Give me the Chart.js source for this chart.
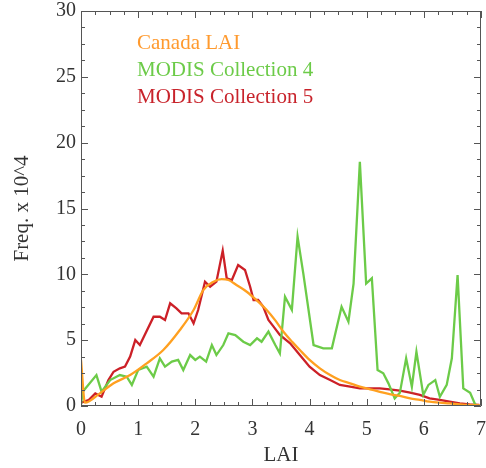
<!DOCTYPE html>
<html><head><meta charset="utf-8">
<script src="https://cdn.jsdelivr.net/npm/chart.js@4.4.1/dist/chart.umd.min.js"></script>
<style>html,body{margin:0;padding:0;background:#fff}#wrap{width:486px;height:468px}</style>
</head><body><div id="wrap"><canvas id="c" width="486" height="468"></canvas></div>
<script>
const seriesNames = ["Canada LAI", "MODIS Collection 4", "MODIS Collection 5"];
const canadaX = [0, 0.07, 0.33, 0.57, 0.86, 1.15, 1.44, 1.73, 1.97, 2.14, 2.32, 2.46, 2.58, 2.72, 2.9, 3.07, 3.25, 3.4, 3.55, 3.7, 3.83, 4.0, 4.18, 4.36, 4.53, 4.71, 4.88, 5.06, 5.23, 5.4, 5.58, 5.76, 5.93, 6.1, 6.28, 6.45, 6.63, 6.8, 6.98];
const canadaY = [3.5, 0.25, 0.96, 1.72, 2.35, 3.24, 4.25, 5.77, 7.29, 8.8, 9.44, 9.64, 9.57, 9.19, 8.68, 8.05, 7.29, 6.5, 5.6, 4.85, 4.25, 3.5, 2.86, 2.35, 1.97, 1.72, 1.47, 1.27, 1.08, 0.9, 0.76, 0.58, 0.46, 0.33, 0.25, 0.2, 0.13, 0.08, 0.05];
const c4X = [0, 0.03, 0.27, 0.36, 0.51, 0.68, 0.8, 0.89, 1.0, 1.15, 1.27, 1.38, 1.47, 1.59, 1.7, 1.79, 1.91, 2.0, 2.08, 2.19, 2.29, 2.37, 2.49, 2.58, 2.7, 2.84, 2.96, 3.08, 3.16, 3.28, 3.4, 3.48, 3.57, 3.69, 3.79, 3.89, 4.07, 4.24, 4.39, 4.56, 4.68, 4.77, 4.88, 4.99, 5.09, 5.19, 5.29, 5.38, 5.49, 5.58, 5.69, 5.79, 5.87, 5.99, 6.08, 6.2, 6.28, 6.4, 6.49, 6.59, 6.69, 6.81, 6.9, 6.98];
const c4Y = [0.1, 1.09, 2.35, 1.09, 1.97, 2.35, 2.23, 1.6, 2.73, 2.99, 2.23, 3.62, 2.99, 3.37, 3.5, 2.73, 3.87, 3.5, 3.75, 3.37, 4.63, 3.87, 4.63, 5.52, 5.39, 4.88, 4.63, 5.14, 4.88, 5.65, 4.63, 4.0, 8.3, 7.3, 12.86, 10.07, 4.63, 4.38, 4.38, 7.54, 6.4, 9.3, 18.55, 9.3, 9.7, 2.73, 2.48, 1.72, 0.58, 1.0, 3.62, 1.47, 4.12, 0.84, 1.6, 1.97, 0.7, 1.6, 3.62, 9.95, 1.34, 1.0, 0.1, 0.0];
const c5X = [0, 0.13, 0.25, 0.36, 0.48, 0.57, 0.68, 0.77, 0.86, 0.95, 1.03, 1.27, 1.38, 1.47, 1.56, 1.67, 1.76, 1.88, 1.97, 2.05, 2.17, 2.26, 2.37, 2.48, 2.55, 2.64, 2.75, 2.87, 2.96, 3.02, 3.1, 3.19, 3.28, 3.37, 3.48, 3.66, 3.83, 4.0, 4.18, 4.36, 4.53, 4.71, 4.88, 5.06, 5.23, 5.4, 5.58, 5.76, 5.93, 6.1, 6.28, 6.45, 6.63, 6.8, 6.97];
const c5Y = [0.25, 0.44, 0.96, 0.71, 1.97, 2.6, 2.86, 2.99, 3.75, 5.01, 4.63, 6.78, 6.78, 6.53, 7.8, 7.42, 7.04, 7.04, 6.28, 7.29, 9.44, 9.06, 9.44, 11.8, 9.7, 9.57, 10.7, 10.33, 9.06, 8.05, 8.05, 7.54, 6.53, 6.03, 5.4, 4.76, 3.87, 2.99, 2.35, 1.97, 1.6, 1.47, 1.34, 1.34, 1.34, 1.27, 1.16, 1.01, 0.84, 0.58, 0.46, 0.33, 0.2, 0.13, 0.08];
const xTicks = [0, 1, 2, 3, 4, 5, 6, 7];
const yTicks = [0, 5, 10, 15, 20, 25, 30];
const lineColors = ["#FFA020", "#6CCB48", "#CC2027"];
const textColors = ["#FF9A2E", "#6CCB48", "#C8232B"];

const pts = (xs, ys) => xs.map((x, i) => ({x: x, y: ys[i]}));
const FONT = "'Liberation Serif', 'DejaVu Serif', serif";

const framePlugin = {
  id: 'frame',
  afterDraw(chart) {
    const {ctx, chartArea: a, scales: {x, y}} = chart;
    ctx.save();
    ctx.strokeStyle = '#555';
    ctx.lineWidth = 1;
    ctx.beginPath();
    ctx.rect(a.left + 0.5, a.top + 0.5, a.right - a.left - 1, a.bottom - a.top - 1);
    ctx.stroke();
    ctx.beginPath();
    for (let v = 0; v <= 7.0001; v += 0.25) {
      const px = Math.round(x.getPixelForValue(v)) + 0.5;
      const len = Math.abs(v - Math.round(v)) < 1e-6 ? 7 : 4;
      ctx.moveTo(px, a.bottom); ctx.lineTo(px, a.bottom - len);
      ctx.moveTo(px, a.top); ctx.lineTo(px, a.top + len);
    }
    for (let v = 0; v <= 30.0001; v += 1.25) {
      const py = Math.round(y.getPixelForValue(v)) + 0.5;
      const len = Math.abs(v / 5 - Math.round(v / 5)) < 1e-6 ? 7 : 4;
      ctx.moveTo(a.left, py); ctx.lineTo(a.left + len, py);
      ctx.moveTo(a.right, py); ctx.lineTo(a.right - len, py);
    }
    ctx.stroke();
    ctx.font = "21px " + FONT;
    ctx.textBaseline = 'middle';
    ctx.textAlign = 'left';
    chart.data.datasets.forEach((ds, i) => {
      ctx.fillStyle = textColors[i];
      ctx.fillText(ds.label, 137, 43 + i * 27);
    });
    ctx.restore();
  }
};

new Chart(document.getElementById('c'), {
  type: 'line',
  data: {
    datasets: [
      {label: seriesNames[0], data: pts(canadaX, canadaY), borderColor: lineColors[0], borderWidth: 2.3, pointRadius: 0, tension: 0.3, cubicInterpolationMode: 'monotone'},
      {label: seriesNames[1], data: pts(c4X, c4Y), borderColor: lineColors[1], borderWidth: 2.3, pointRadius: 0, tension: 0},
      {label: seriesNames[2], data: pts(c5X, c5Y), borderColor: lineColors[2], borderWidth: 2.3, pointRadius: 0, tension: 0}
    ]
  },
  options: {
    responsive: false,
    animation: false,
    layout: {padding: {top: 11, right: 5, left: 0, bottom: 0}},
    plugins: {legend: {display: false}, tooltip: {enabled: false}},
    scales: {
      x: {
        type: 'linear', min: 0, max: 7,
        afterBuildTicks: s => { s.ticks = xTicks.map(v => ({value: v})); },
        afterFit: s => { s.height = 62; s.paddingLeft = 0; s.paddingRight = 0; },
        grid: {display: false, drawTicks: false},
        border: {display: false},
        ticks: {color: '#333', font: {family: FONT, size: 20}, padding: 12, maxRotation: 0},
        title: {display: true, text: 'LAI', color: '#333', font: {family: FONT, size: 21}, padding: {top: 3, bottom: 0}}
      },
      y: {
        type: 'linear', min: 0, max: 30,
        afterBuildTicks: s => { s.ticks = yTicks.map(v => ({value: v})); },
        afterFit: s => { s.width = 81; s.paddingTop = 0; s.paddingBottom = 0; },
        grid: {display: false, drawTicks: false},
        border: {display: false},
        ticks: {color: '#333', font: {family: FONT, size: 20}, padding: 5},
        title: {display: true, text: 'Freq. x 10^4', color: '#333', font: {family: FONT, size: 21}, padding: {top: 10, bottom: 0}}
      }
    }
  },
  plugins: [framePlugin]
});
</script></body></html>
